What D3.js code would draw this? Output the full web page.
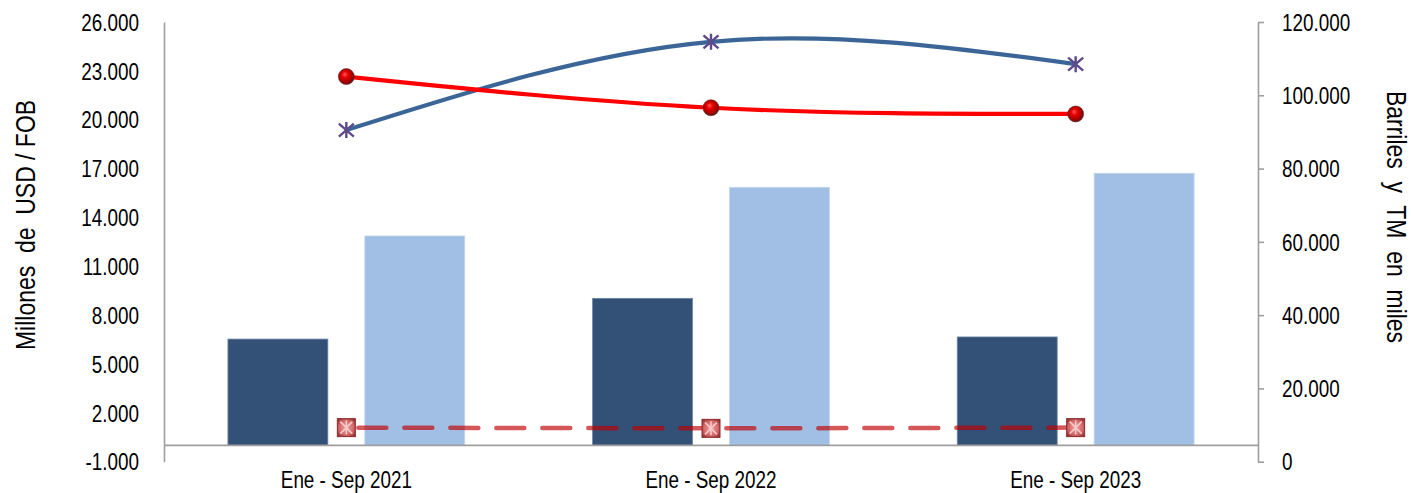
<!DOCTYPE html>
<html>
<head>
<meta charset="utf-8">
<script src="https://cdn.jsdelivr.net/npm/d3@7"></script>
<style>
  html, body { margin: 0; padding: 0; background: #fff; }
  svg { display: block; }
  text { font-family: "Liberation Sans", Arial, sans-serif; fill: #000; }
</style>
</head>
<body>
<svg id="chart" width="1411" height="493"></svg>
<script>
// ---- data ----
const categories = ["Ene - Sep 2021", "Ene - Sep 2022", "Ene - Sep 2023"];
const barSeriesDark = [6530, 9030, 6660];        // Millones USD FOB (left axis)
const barSeriesLight = [12860, 15850, 16710];    // Millones USD FOB (left axis)
const lineBlue = [90500, 114600, 108500];        // Barriles y TM en miles (right axis)
const lineRed = [105100, 96600, 94900];          // right axis
const lineDashed = [9300, 9100, 9300];           // right axis
const leftTicks = [-1000, 2000, 5000, 8000, 11000, 14000, 17000, 20000, 23000, 26000];
const rightTicks = [0, 20000, 40000, 60000, 80000, 100000, 120000];
const leftTitle = "Millones  de  USD / FOB";
const rightTitle = "Barriles  y  TM  en  miles";

// ---- layout ----
const svg = d3.select("#chart");
const plotLeft = 164, plotRight = 1258, plotTop = 22, plotBottom = 461.7;

const fmt = d3.formatLocale({decimal: ",", thousands: ".", grouping: [3], currency: ["$", ""], minus: "-"}).format(",");

const x = d3.scaleBand().domain(categories).range([plotLeft, plotRight]).padding(0);
const xInner = d3.scaleBand().domain(["dark", "light"]).range([0, x.bandwidth()])
  .paddingInner(0.27).paddingOuter(0.467);
const yL = d3.scaleLinear().domain([-1000, 26000]).range([plotBottom, plotTop]);
const yR = d3.scaleLinear().domain([0, 120000]).range([plotBottom, plotTop]);

const defs = svg.append("defs");
const sg = defs.append("radialGradient").attr("id", "sphere").attr("cx", "45%").attr("cy", "45%").attr("r", "55%").attr("fx", "40%").attr("fy", "35%");
sg.append("stop").attr("offset", "0%").attr("stop-color", "#ff5a5a");
sg.append("stop").attr("offset", "35%").attr("stop-color", "#e80000");
sg.append("stop").attr("offset", "80%").attr("stop-color", "#a00000");
sg.append("stop").attr("offset", "100%").attr("stop-color", "#5a1a1a");
const qg = defs.append("radialGradient").attr("id", "sq").attr("cx", "50%").attr("cy", "50%").attr("r", "65%");
qg.append("stop").attr("offset", "0%").attr("stop-color", "#f0a0a0");
qg.append("stop").attr("offset", "60%").attr("stop-color", "#d46a6a");
qg.append("stop").attr("offset", "100%").attr("stop-color", "#8e2c2c");

// ---- bars ----
const barData = [];
categories.forEach((c, i) => {
  barData.push({c, k: "dark", v: barSeriesDark[i]});
  barData.push({c, k: "light", v: barSeriesLight[i]});
});
svg.append("g").selectAll("rect").data(barData).join("rect")
  .attr("x", d => x(d.c) + xInner(d.k))
  .attr("width", xInner.bandwidth())
  .attr("y", d => yL(d.v))
  .attr("height", d => yL(0) - yL(d.v))
  .attr("fill", d => d.k === "dark" ? "#335177" : "#a1bfe4")
  .attr("stroke", d => d.k === "dark" ? "#6d86a6" : "#c4d7ef")
  .attr("stroke-width", 0.8);

// ---- axes ----
const axisColor = "#9e9e9e";
svg.append("line").attr("x1", plotLeft).attr("x2", plotRight).attr("y1", yL(0)).attr("y2", yL(0))
  .attr("stroke", axisColor).attr("stroke-width", 1.6);

const gL = svg.append("g").attr("transform", `translate(${plotLeft},0)`)
  .call(d3.axisLeft(yL).tickValues(leftTicks).tickFormat(fmt).tickSize(0).tickPadding(25));
gL.select(".domain").attr("stroke", axisColor).attr("stroke-width", 1.6);
gL.selectAll("text").attr("font-size", 23).attr("font-family", null).attr("dy", "0.36em");

const gR = svg.append("g").attr("transform", `translate(${plotRight},0)`)
  .call(d3.axisRight(yR).tickValues(rightTicks).tickFormat(fmt).tickSize(6).tickSizeOuter(0).tickPadding(18));
gR.select(".domain").attr("stroke", axisColor).attr("stroke-width", 1.6);
gR.selectAll(".tick line").attr("stroke", axisColor).attr("stroke-width", 1.6);
gR.selectAll("text").attr("font-size", 23).attr("font-family", null).attr("dy", "0.36em");

const gX = svg.append("g").attr("transform", `translate(0,${plotBottom})`)
  .call(d3.axisBottom(x).tickSize(0).tickPadding(10));
gX.select(".domain").remove();
gX.selectAll("text").attr("font-size", 23).attr("font-family", null);

// titles
svg.append("text").attr("transform", `translate(35,225) rotate(-90)`)
  .attr("text-anchor", "middle").attr("font-size", 28).style("white-space", "pre").text(leftTitle);
svg.append("text").attr("transform", `translate(1387,217) rotate(90)`)
  .attr("text-anchor", "middle").attr("font-size", 28).style("white-space", "pre").text(rightTitle);

// narrow the font horizontally (Arial Narrow look)
svg.selectAll("text").each(function() {
  const len = this.getComputedTextLength();
  d3.select(this).attr("textLength", len * 0.82).attr("lengthAdjust", "spacingAndGlyphs");
});

// ---- lines ----
const cx = c => x(c) + x.bandwidth() / 2;

const dashedLine = d3.line().x((d, i) => cx(categories[i])).y(d => yR(d));
svg.append("path").datum(lineDashed).attr("d", dashedLine)
  .attr("fill", "none").attr("stroke", "rgba(192,0,0,0.66)").attr("stroke-width", 4.5)
  .attr("stroke-linecap", "round").attr("stroke-dasharray", "28,18").attr("stroke-dashoffset", -12);
const sqG = svg.append("g").selectAll("g").data(lineDashed).join("g")
  .attr("transform", (d, i) => `translate(${cx(categories[i])},${yR(d)})`);
sqG.append("rect").attr("x", -9).attr("y", -9).attr("width", 18).attr("height", 18)
  .attr("fill", "url(#sq)").attr("stroke", "#8a2a2a").attr("stroke-width", 1);
sqG.append("path").attr("d", "M-6,-6L6,6M-6,6L6,-6M0,-7L0,7")
  .attr("stroke", "#f6caca").attr("stroke-width", 1.6).attr("fill", "none");

const blueLine = d3.line().x((d, i) => cx(categories[i])).y(d => yR(d)).curve(d3.curveNatural);
svg.append("path").datum(lineBlue).attr("d", blueLine)
  .attr("fill", "none").attr("stroke", "#3b6597").attr("stroke-width", 4.2);

const redLine = d3.line().x((d, i) => cx(categories[i])).y(d => yR(d)).curve(d3.curveNatural);
svg.append("path").datum(lineRed).attr("d", redLine)
  .attr("fill", "none").attr("stroke", "#ff0000").attr("stroke-width", 4.2);

svg.append("g").selectAll("path").data(lineBlue).join("path")
  .attr("transform", (d, i) => `translate(${cx(categories[i])},${yR(d)})`)
  .attr("d", "M0,-8L0,8M-7.5,-6.5L7.5,6.5M-7.5,6.5L7.5,-6.5")
  .attr("stroke", "#5d4a8a").attr("stroke-width", 2.4).attr("fill", "none");

svg.append("g").selectAll("circle").data(lineRed).join("circle")
  .attr("cx", (d, i) => cx(categories[i])).attr("cy", d => yR(d)).attr("r", 8)
  .attr("fill", "url(#sphere)").attr("stroke", "#6a2a2a").attr("stroke-width", 0.6);
</script>
</body>
</html>
